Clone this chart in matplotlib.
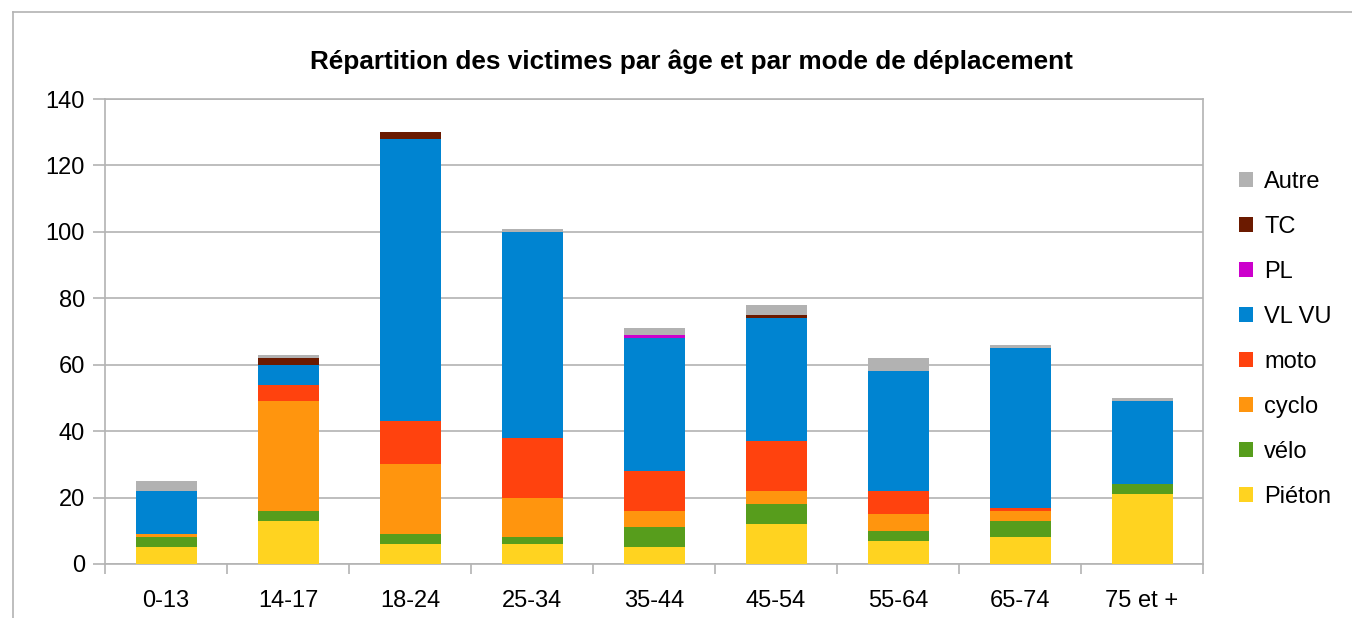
import matplotlib.pyplot as plt
import numpy as np

plt.rcParams['font.family'] = ['Liberation Sans', 'DejaVu Sans']

ages = ["0-13", "14-17", "18-24", "25-34", "35-44", "45-54", "55-64", "65-74", "75 et +"]

pieton = [5, 13, 6, 6, 5, 12, 7, 8, 21]
velo = [3, 3, 3, 2, 6, 6, 3, 5, 3]
cyclo = [1, 33, 21, 12, 5, 4, 5, 3, 0]
moto = [0, 5, 13, 18, 12, 15, 7, 1, 0]
vl_vu = [13, 6, 85, 62, 40, 37, 36, 48, 25]
pl = [0, 0, 0, 0, 1, 0, 0, 0, 0]
tc = [0, 2, 2, 0, 0, 1, 0, 0, 0]
autre = [3, 1, 0, 1, 2, 3, 4, 1, 1]

series = [
    ("Piéton", pieton, "#ffd320"),
    ("vélo", velo, "#579d1c"),
    ("cyclo", cyclo, "#ff950e"),
    ("moto", moto, "#ff420e"),
    ("VL VU", vl_vu, "#0084d1"),
    ("PL", pl, "#cc00cc"),
    ("TC", tc, "#6b1a00"),
    ("Autre", autre, "#b2b2b2"),
]

fig = plt.figure(figsize=(13.52, 6.18), dpi=100)
ax = fig.add_axes([105/1352, 1-564/618, (1203-105)/1352, (564-99)/618])

x = np.arange(len(ages))
bottom = np.zeros(len(ages))
handles = []
for name, vals, col in series:
    b = ax.bar(x, vals, 0.5, bottom=bottom, color=col, label=name, zorder=3)
    handles.append(b)
    bottom += np.array(vals)

gcol = "#b3b3b3"
ax.set_xlim(-0.5, len(ages) - 0.5)
ax.set_ylim(0, 140)
ax.set_yticks(range(0, 141, 20))
ax.yaxis.grid(True, color=gcol, lw=1.2, zorder=0)
ax.set_xticks(x)
ax.set_xticklabels(ages)
ax.set_xticks(np.arange(-0.5, len(ages), 1), minor=True)
ax.tick_params(axis='x', which='major', length=0, pad=19, labelsize=17)
ax.tick_params(axis='x', which='minor', length=7.5, color=gcol, width=1.2)
ax.tick_params(axis='y', length=8.5, color=gcol, width=1.2, labelsize=17, pad=6)
for s in ax.spines.values():
    s.set_color(gcol)
    s.set_linewidth(1.2)

fig.text(691/1352, 1-62/618, "Répartition des victimes par âge et par mode de déplacement",
         ha='center', va='center', fontsize=18.8, fontweight='bold')

leg = fig.legend(handles[::-1], [s[0] for s in series][::-1], loc='upper left',
                 bbox_to_anchor=(1218/1352, 1-150/618), frameon=False, fontsize=17,
                 handlelength=0.6, handleheight=0.6, handletextpad=0.45, labelspacing=0.97)

# outer chart frame
fig.add_artist(plt.Line2D([13/1352, 13/1352], [0, 1-12/618], color=gcol, lw=1.2))
fig.add_artist(plt.Line2D([13/1352, 1], [1-12/618, 1-12/618], color=gcol, lw=1.2))

fig.savefig("out.png", dpi=100)
